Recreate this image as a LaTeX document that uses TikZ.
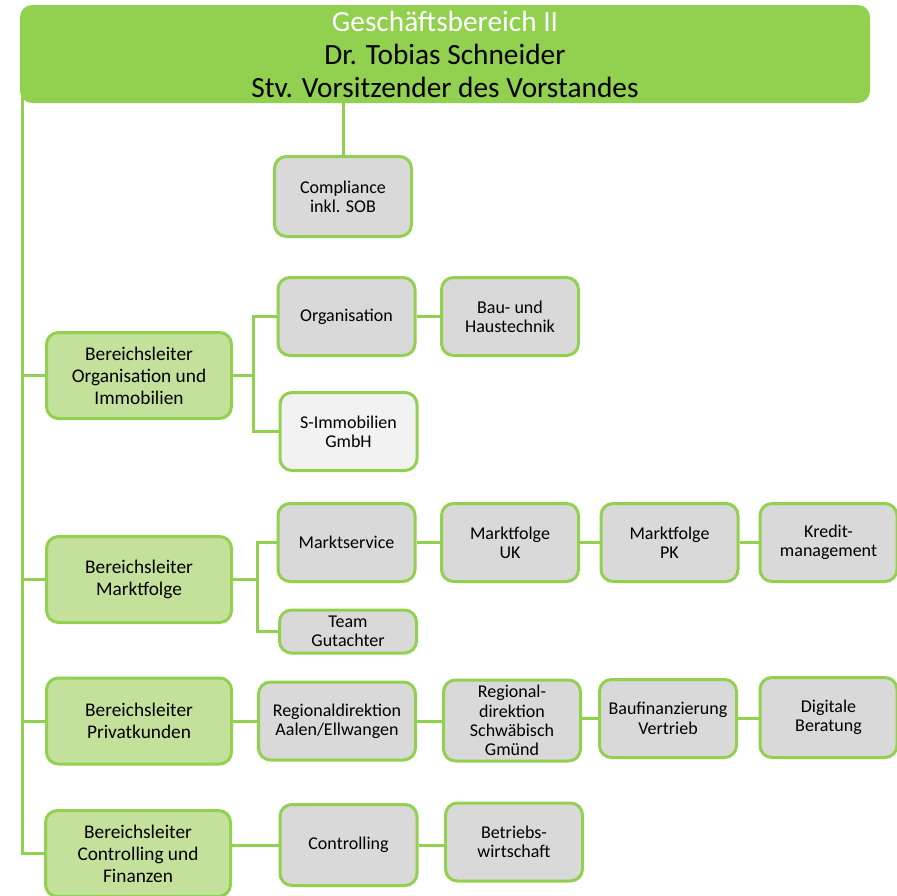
\documentclass[tikz,border=0pt]{standalone}
\usepackage{fontspec}
\setmainfont{Carlito}
\usepackage{tikz}
\usetikzlibrary{positioning}

\definecolor{hgreen}{HTML}{92D050}
\definecolor{lgreen}{HTML}{C4E19C}
\definecolor{ugray}{HTML}{D9D9D9}
\definecolor{lgray}{HTML}{F2F2F2}

\begin{document}
\begin{tikzpicture}
    [
    x=0.75pt, y=-0.75pt,
    head/.style={fill=hgreen,rounded corners=9pt,align=center,
      minimum width=637.5pt,minimum height=73.5pt,inner sep=0pt,
      font=\fontsize{22}{24.75}\selectfont},
    lead/.style={draw=hgreen,fill=lgreen,line width=2.25pt,rounded corners=9pt,
      align=center,minimum width=138.75pt,minimum height=64.5pt,inner sep=1pt,
      font=\fontsize{14.5}{16.5}\selectfont},
    unit/.style={draw=hgreen,fill=ugray,line width=2.25pt,rounded corners=9pt,
      align=center,minimum width=102.75pt,minimum height=58.5pt,inner sep=1pt,
      font=\fontsize{13.5}{14.5}\selectfont},
    link/.style={draw=hgreen,line width=2.25pt},
    ]
    \useasboundingbox (0,0) rectangle (897,896);
    \clip (0,0) rectangle (897,896);

    \node (head) at (445,54) [head] {\textcolor{white}{Geschäftsbereich II}\\Dr. Tobias Schneider\\Stv. Vorsitzender des Vorstandes};
    \node (comp) at (343,196.5) [unit,minimum height=60pt] {Compliance\\inkl. SOB};

    \node (oi) at (139,375.5) [lead] {Bereichsleiter\\Organisation und\\Immobilien};
    \node (mf) at (139,579.5) [lead] {Bereichsleiter\\Marktfolge};
    \node (pk) at (139,721) [lead] {Bereichsleiter\\Privatkunden};
    \node (cf) at (138,853.5) [lead] {Bereichsleiter\\Controlling und\\Finanzen};

    \node (org) at (346.5,316.5) [unit] {Organisation};
    \node (bau) at (510,316.5) [unit] {Bau- und\\Haustechnik};
    \node (simmo) at (348.5,431.5) [unit,fill=lgray] {S-Immobilien\\GmbH};

    \node (ms) at (346.5,542.5) [unit] {Marktservice};
    \node (mfuk) at (510,542.5) [unit] {Marktfolge\\UK};
    \node (mfpk) at (669.5,542.5) [unit] {Marktfolge\\PK};
    \node (kred) at (828.5,542.5) [unit] {Kredit-\\management};
    \node (team) at (348,631.5) [unit,minimum height=32.25pt] {Team\\Gutachter};

    \node (ra) at (337,721) [unit,minimum width=117.75pt] {Regionaldirektion\\Aalen/Ellwangen};
    \node (sg) at (512,720.5) [unit,minimum height=60.75pt] {Regional-\\direktion\\Schwäbisch\\Gmünd};
    \node (bv) at (668,718.5) [unit] {Baufinanzierung\\Vertrieb};
    \node (dig) at (828.5,717.5) [unit,minimum height=60pt] {Digitale\\Beratung};

    \node (ctrl) at (348.5,845) [unit,minimum height=60.75pt] {Controlling};
    \node (bw) at (514,842) [unit] {Betriebs-\\wirtschaft};

    % Stabsstelle und Bereichsleiter
    \coordinate (t0) at (22,97);
    \draw [link] (head.south -| comp.north) -- (comp.north);
    \draw [link] (t0) |- (oi.west);
    \draw [link] (t0) |- (mf.west);
    \draw [link] (t0) |- (pk.west);
    \draw [link] (t0) |- (cf.west);

    % Organisation und Immobilien
    \coordinate (b1) at (253,375.5);
    \draw [link] (oi.east) -- (b1);
    \draw [link] (org.west) -| (b1);
    \draw [link] (simmo.west) -| (b1);
    \draw [link] (org.east) -- (org.east -| bau.west);

    % Marktfolge
    \coordinate (b2) at (257,579.5);
    \draw [link] (mf.east) -- (b2);
    \draw [link] (ms.west) -| (b2);
    \draw [link] (team.west) -| (b2);
    \draw [link] (ms.east) -- (ms.east -| mfuk.west);
    \draw [link] (mfuk.east) -- (mfuk.east -| mfpk.west);
    \draw [link] (mfpk.east) -- (mfpk.east -| kred.west);

    % Privatkunden
    \draw [link] (pk.east) -- (pk.east -| ra.west);
    \draw [link] (ra.east) -- (ra.east -| sg.west);
    \draw [link] (sg.east |- bv.west) -- (bv.west);
    \draw [link] (bv.east) -- (bv.east -| dig.west);

    % Controlling und Finanzen
    \draw [link] (ctrl.west -| cf.east) -- (ctrl.west);
    \draw [link] (ctrl.east) -- (ctrl.east -| bw.west);
  \end{tikzpicture}
\end{document}
